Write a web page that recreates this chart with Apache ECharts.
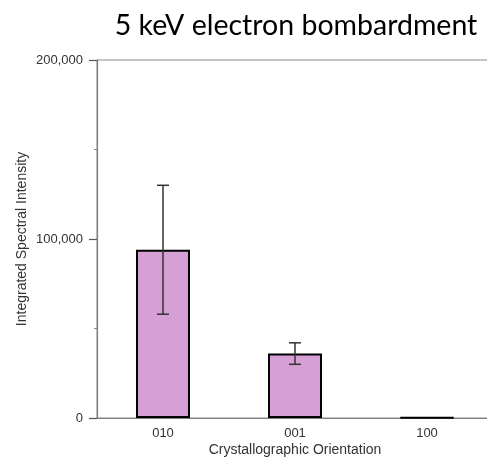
<!DOCTYPE html>
<html>
<head>
<meta charset="utf-8">
<script src="https://cdn.jsdelivr.net/npm/echarts@6/dist/echarts.min.js"></script>
<style>
html,body{margin:0;padding:0;background:#fff;}
#chart{width:487px;height:457px;}
</style>
</head>
<body>
<div id="chart"></div>
<script>
const titleText = '5 keV electron bombardment';
const categories = ['010', '001', '100'];
const values = [94000, 36000, 300];
const errors = [36000, 6000, 0];
const yTicks = [0, 100000, 200000];

const chart = echarts.init(document.getElementById('chart'));
const errData = categories.map((c, i) => [i, values[i] - errors[i], values[i] + errors[i]]);

chart.setOption({
  animation: false,
  backgroundColor: '#fff',
  title: {
    text: titleText,
    left: 291, textAlign: 'center',
    top: 6,
    textStyle: { fontFamily: 'Lato', fontSize: 28.5, fontWeight: 'normal', color: '#000' }
  },
  grid: {
    left: 97, top: 60, width: 396, height: 358,
    outerBoundsMode: 'none',
    containLabel: false,
    show: true, borderColor: '#8a8a8a', borderWidth: 1, backgroundColor: 'transparent'
  },
  xAxis: {
    type: 'category',
    data: categories,
    name: 'Crystallographic Orientation',
    nameLocation: 'middle',
    nameGap: 25,
    nameMoveOverlap: false,
    nameTextStyle: { fontFamily: 'Liberation Sans', fontSize: 14, color: '#333' },
    axisLine: { lineStyle: { color: '#7f7f7f', width: 1.2 } },
    axisTick: { alignWithLabel: true, length: 5, lineStyle: { color: '#333', width: 1.5 } },
    axisLabel: { fontFamily: 'Liberation Sans', fontSize: 13, color: '#333', margin: 9 },
    splitLine: { show: false }
  },
  yAxis: {
    type: 'value',
    min: 0, max: 200000, interval: 100000,
    name: 'Integrated Spectral Intensity',
    nameLocation: 'middle',
    nameGap: 68,
    nameMoveOverlap: false,
    nameTextStyle: { fontFamily: 'Liberation Sans', fontSize: 14, color: '#333' },
    axisLine: { show: true, lineStyle: { color: '#7f7f7f', width: 1.2 } },
    axisTick: { show: true, length: 8, lineStyle: { color: '#555', width: 1.2 } },
    minorTick: { show: true, splitNumber: 2, length: 3, lineStyle: { color: '#888', width: 1 } },
    axisLabel: {
      fontFamily: 'Liberation Sans', fontSize: 13, color: '#333', margin: 14,
      formatter: v => yTicks.indexOf(v) >= 0 ? v.toLocaleString('en-US') : ''
    },
    splitLine: { show: false }
  },
  series: [
    {
      type: 'bar',
      data: values,
      barWidth: 54,
      itemStyle: { color: '#d6a0d7', borderColor: '#000', borderWidth: 2 }
    },
    {
      type: 'custom',
      data: errData,
      z: 5,
      renderItem: function (params, api) {
        const x = api.value(0);
        const lo = api.coord([x, api.value(1)]);
        const hi = api.coord([x, api.value(2)]);
        if (Math.abs(lo[1] - hi[1]) < 1) return null;
        const hw = 6;
        const st = { stroke: '#333', lineWidth: 1.5 };
        return {
          type: 'group',
          children: [
            { type: 'line', shape: { x1: hi[0], y1: hi[1], x2: lo[0], y2: lo[1] }, style: st },
            { type: 'line', shape: { x1: hi[0] - hw, y1: hi[1], x2: hi[0] + hw, y2: hi[1] }, style: st },
            { type: 'line', shape: { x1: lo[0] - hw, y1: lo[1], x2: lo[0] + hw, y2: lo[1] }, style: st }
          ]
        };
      }
    }
  ]
});
</script>
</body>
</html>
